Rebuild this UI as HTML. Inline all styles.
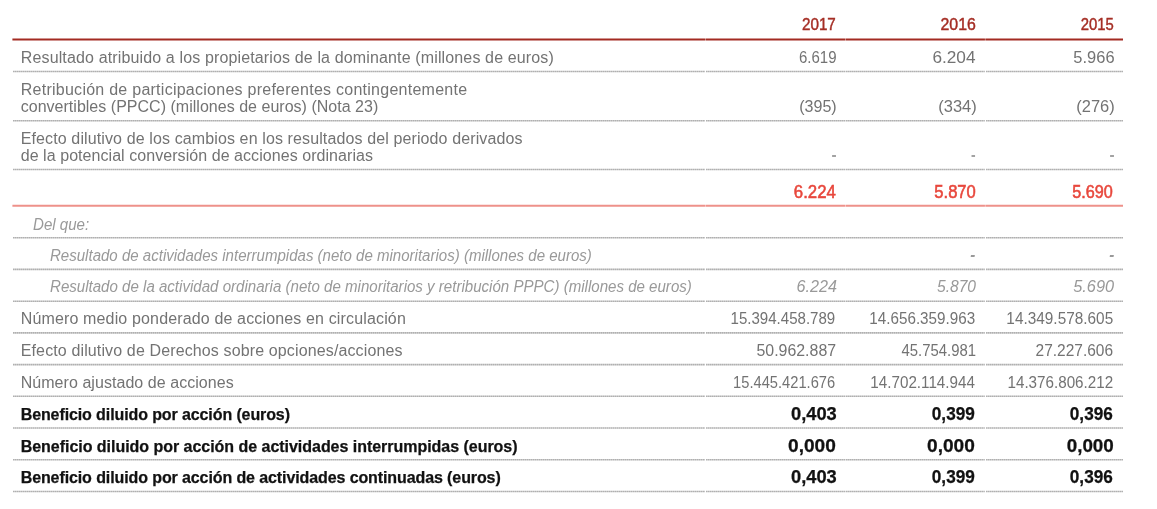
<!DOCTYPE html>
<html lang="es">
<head>
<meta charset="utf-8">
<title>Beneficio diluido por acción</title>
<style>
html,body{margin:0;padding:0;background:#fff;}
body{width:1157px;height:509px;overflow:hidden;position:relative;font-family:"Liberation Sans",sans-serif;}
table{filter:blur(0.5px);position:absolute;left:13px;top:0;width:1110px;border-collapse:separate;border-spacing:0;table-layout:fixed;}
td,th{position:relative;padding:0;margin:0;font-weight:normal;text-align:left;vertical-align:top;color:#737373;font-size:16px;line-height:17px;white-space:nowrap;box-sizing:border-box;}
.t{position:absolute;display:block;white-space:nowrap;line-height:17px;}
.num .t{transform-origin:100% 50%}
td.num{font-size:17px}
td.dash{color:#a2a2a2;font-weight:bold}
tr.head th{color:#a52e25;font-weight:normal;font-size:17px;-webkit-text-stroke:0.45px #a52e25}
tr.tot td{color:#e8473c;font-weight:normal;font-size:17.5px;-webkit-text-stroke:0.55px #e8473c}
tr.it td{font-style:italic;color:#999;font-size:16px}
tr.it td .t{transform-origin:0 50%}
tr.it td.num .t{transform-origin:100% 50%}
tr.b td{font-weight:bold;color:#111;font-size:16px;-webkit-text-stroke:0.25px #111}
tr.b td.num{font-size:17.5px}
svg.rules{position:absolute;left:0;top:0;pointer-events:none}
svg.rules line{fill:none}
line.h{stroke:#a32b22;stroke-width:2.1}
line.p{stroke:#ee918a;stroke-width:2.1}
line.d{stroke:#b0b0b0;stroke-width:1.6;stroke-dasharray:1.7 0.3}
</style>
</head>
<body>
<table>
<colgroup><col style="width:692px"><col style="width:140px"><col style="width:140px"><col style="width:138px"></colgroup>
<tr class="head" style="height:41px"><th></th><th class="num"><span class="t" style="transform:scaleX(0.8942);top:16.00px;right:8.70px">2017</span></th><th class="num"><span class="t" style="transform:scaleX(0.9338);top:16.00px;right:9.20px">2016</span></th><th class="num"><span class="t" style="transform:scaleX(0.8741);top:16.00px;right:8.70px">2015</span></th></tr>
<tr class="reg" style="height:31px"><td><span class="t" style="letter-spacing:0.138px;top:7.80px;left:7.78px">Resultado atribuido a los propietarios de la dominante (millones de euros)</span></td><td class="num"><span class="t" style="transform:scaleX(0.8832);top:7.80px;right:8.70px">6.619</span></td><td class="num"><span class="t" style="transform:scaleX(1.0146);top:7.80px;right:9.20px">6.204</span></td><td class="num"><span class="t" style="transform:scaleX(0.9677);top:7.80px;right:8.45px">5.966</span></td></tr>
<tr class="reg two" style="height:49px"><td><span class="t" style="letter-spacing:0.258px;top:8.50px;left:7.74px">Retribución de participaciones preferentes contingentemente</span><span class="t" style="letter-spacing:0.021px;top:25.60px;left:7.70px">convertibles (PPCC) (millones de euros) (Nota 23)</span></td><td class="num"><span class="t" style="transform:scaleX(0.9434);top:25.60px;right:8.45px">(395)</span></td><td class="num"><span class="t" style="transform:scaleX(0.9685);top:25.60px;right:8.70px">(334)</span></td><td class="num"><span class="t" style="transform:scaleX(0.9685);top:25.60px;right:7.95px">(276)</span></td></tr>
<tr class="reg two" style="height:49px"><td><span class="t" style="letter-spacing:0.118px;top:8.50px;left:7.74px">Efecto dilutivo de los cambios en los resultados del periodo derivados</span><span class="t" style="letter-spacing:0.057px;top:26.40px;left:7.70px">de la potencial conversión de acciones ordinarias</span></td><td class="num dash"><span class="t" style="transform:scaleX(0.8933);top:25.40px;right:8.70px">-</span></td><td class="num dash"><span class="t" style="transform:scaleX(0.8115);top:25.40px;right:9.20px">-</span></td><td class="num dash"><span class="t" style="transform:scaleX(0.8933);top:25.40px;right:8.20px">-</span></td></tr>
<tr class="tot" style="height:37px"><td></td><td class="num"><span class="t" style="transform:scaleX(0.9590);top:13.60px;right:9.25px">6.224</span></td><td class="num"><span class="t" style="transform:scaleX(0.9463);top:13.60px;right:9.50px">5.870</span></td><td class="num"><span class="t" style="transform:scaleX(0.9250);top:13.60px;right:10.00px">5.690</span></td></tr>
<tr class="it" style="height:31px"><td><span class="t" style="transform:scaleX(0.9422);top:8.50px;left:19.70px">Del que:</span></td><td class="num"></td><td class="num"></td><td class="num"></td></tr>
<tr class="it" style="height:32px"><td><span class="t" style="transform:scaleX(0.9402);top:9.20px;left:36.74px">Resultado de actividades interrumpidas (neto de minoritarios) (millones de euros)</span></td><td class="num"></td><td class="num dash"><span class="t" style="transform:scaleX(0.9509);top:8.20px;right:10.00px">-</span></td><td class="num dash"><span class="t" style="transform:scaleX(0.9509);top:8.20px;right:9.00px">-</span></td></tr>
<tr class="it" style="height:32px"><td><span class="t" style="transform:scaleX(0.9422);top:8.30px;left:36.74px">Resultado de la actividad ordinaria (neto de minoritarios y retribución PPPC) (millones de euros)</span></td><td class="num"><span class="t" style="transform:scaleX(1.0096);top:8.30px;right:8.45px">6.224</span></td><td class="num"><span class="t" style="transform:scaleX(0.9760);top:8.30px;right:9.25px">5.870</span></td><td class="num"><span class="t" style="transform:scaleX(1.0193);top:8.30px;right:8.75px">5.690</span></td></tr>
<tr class="reg" style="height:31px"><td><span class="t" style="letter-spacing:0.148px;top:7.75px;left:7.70px">Número medio ponderado de acciones en circulación</span></td><td class="num"><span class="t" style="transform:scaleX(0.8853);top:7.75px;right:10.00px">15.394.458.789</span></td><td class="num"><span class="t" style="transform:scaleX(0.8959);top:7.75px;right:10.00px">14.656.359.963</span></td><td class="num"><span class="t" style="transform:scaleX(0.9038);top:7.75px;right:9.50px">14.349.578.605</span></td></tr>
<tr class="reg" style="height:32px"><td><span class="t" style="letter-spacing:0.129px;top:8.50px;left:7.74px">Efecto dilutivo de Derechos sobre opciones/acciones</span></td><td class="num"><span class="t" style="transform:scaleX(0.9358);top:8.50px;right:9.20px">50.962.887</span></td><td class="num"><span class="t" style="transform:scaleX(0.8762);top:8.50px;right:9.20px">45.754.981</span></td><td class="num"><span class="t" style="transform:scaleX(0.9116);top:8.50px;right:9.50px">27.227.606</span></td></tr>
<tr class="reg" style="height:32px"><td><span class="t" style="letter-spacing:0.052px;top:8.50px;left:7.70px">Número ajustado de acciones</span></td><td class="num"><span class="t" style="transform:scaleX(0.8637);top:8.50px;right:10.00px">15.445.421.676</span></td><td class="num"><span class="t" style="transform:scaleX(0.8943);top:8.50px;right:10.00px">14.702.114.944</span></td><td class="num"><span class="t" style="transform:scaleX(0.8945);top:8.50px;right:9.70px">14.376.806.212</span></td></tr>
<tr class="b" style="height:32px"><td><span class="t" style="letter-spacing:-0.103px;top:8.80px;left:7.70px">Beneficio diluido por acción (euros)</span></td><td class="num"><span class="t" style="transform:scaleX(1.0462);top:8.80px;right:8.45px">0,403</span></td><td class="num"><span class="t" style="transform:scaleX(0.9818);top:8.80px;right:10.00px">0,399</span></td><td class="num"><span class="t" style="transform:scaleX(0.9818);top:8.80px;right:10.00px">0,396</span></td></tr>
<tr class="b" style="height:31px"><td><span class="t" style="letter-spacing:-0.030px;top:8.50px;left:7.70px">Beneficio diluido por acción de actividades interrumpidas (euros)</span></td><td class="num"><span class="t" style="transform:scaleX(1.0909);top:8.50px;right:9.25px">0,000</span></td><td class="num"><span class="t" style="transform:scaleX(1.0909);top:8.50px;right:9.75px">0,000</span></td><td class="num"><span class="t" style="transform:scaleX(1.0750);top:8.50px;right:9.20px">0,000</span></td></tr>
<tr class="b" style="height:32px"><td><span class="t" style="letter-spacing:-0.101px;top:8.80px;left:7.70px">Beneficio diluido por acción de actividades continuadas (euros)</span></td><td class="num"><span class="t" style="transform:scaleX(1.0462);top:8.80px;right:8.45px">0,403</span></td><td class="num"><span class="t" style="transform:scaleX(0.9818);top:8.80px;right:10.00px">0,399</span></td><td class="num"><span class="t" style="transform:scaleX(0.9818);top:8.80px;right:10.00px">0,396</span></td></tr>
</table>
<svg class="rules" width="1157" height="509" viewBox="0 0 1157 509">
<line class="h" x1="12.40" y1="39.50" x2="705.05" y2="39.50"/><line class="h" x1="705.40" y1="39.50" x2="845.55" y2="39.50"/><line class="h" x1="845.90" y1="39.50" x2="984.95" y2="39.50"/><line class="h" x1="985.30" y1="39.50" x2="1123.00" y2="39.50"/>
<line class="d" x1="13.00" y1="71.50" x2="704.90" y2="71.50"/><line class="d" x1="706.00" y1="71.50" x2="845.40" y2="71.50"/><line class="d" x1="846.00" y1="71.50" x2="984.80" y2="71.50"/><line class="d" x1="986.00" y1="71.50" x2="1123.00" y2="71.50"/>
<line class="d" x1="13.00" y1="120.70" x2="704.90" y2="120.70"/><line class="d" x1="706.00" y1="120.70" x2="845.40" y2="120.70"/><line class="d" x1="846.00" y1="120.70" x2="984.80" y2="120.70"/><line class="d" x1="986.00" y1="120.70" x2="1123.00" y2="120.70"/>
<line class="d" x1="13.00" y1="169.50" x2="704.90" y2="169.50"/><line class="d" x1="706.00" y1="169.50" x2="845.40" y2="169.50"/><line class="d" x1="846.00" y1="169.50" x2="984.80" y2="169.50"/><line class="d" x1="986.00" y1="169.50" x2="1123.00" y2="169.50"/>
<line class="p" x1="12.40" y1="205.80" x2="705.05" y2="205.80"/><line class="p" x1="705.40" y1="205.80" x2="845.55" y2="205.80"/><line class="p" x1="845.90" y1="205.80" x2="984.95" y2="205.80"/><line class="p" x1="985.30" y1="205.80" x2="1123.00" y2="205.80"/>
<line class="d" x1="13.00" y1="237.70" x2="704.90" y2="237.70"/><line class="d" x1="706.00" y1="237.70" x2="845.40" y2="237.70"/><line class="d" x1="846.00" y1="237.70" x2="984.80" y2="237.70"/><line class="d" x1="986.00" y1="237.70" x2="1123.00" y2="237.70"/>
<line class="d" x1="13.00" y1="269.40" x2="704.90" y2="269.40"/><line class="d" x1="706.00" y1="269.40" x2="845.40" y2="269.40"/><line class="d" x1="846.00" y1="269.40" x2="984.80" y2="269.40"/><line class="d" x1="986.00" y1="269.40" x2="1123.00" y2="269.40"/>
<line class="d" x1="13.00" y1="301.20" x2="704.90" y2="301.20"/><line class="d" x1="706.00" y1="301.20" x2="845.40" y2="301.20"/><line class="d" x1="846.00" y1="301.20" x2="984.80" y2="301.20"/><line class="d" x1="986.00" y1="301.20" x2="1123.00" y2="301.20"/>
<line class="d" x1="13.00" y1="332.90" x2="704.90" y2="332.90"/><line class="d" x1="706.00" y1="332.90" x2="845.40" y2="332.90"/><line class="d" x1="846.00" y1="332.90" x2="984.80" y2="332.90"/><line class="d" x1="986.00" y1="332.90" x2="1123.00" y2="332.90"/>
<line class="d" x1="13.00" y1="364.60" x2="704.90" y2="364.60"/><line class="d" x1="706.00" y1="364.60" x2="845.40" y2="364.60"/><line class="d" x1="846.00" y1="364.60" x2="984.80" y2="364.60"/><line class="d" x1="986.00" y1="364.60" x2="1123.00" y2="364.60"/>
<line class="d" x1="13.00" y1="396.30" x2="704.90" y2="396.30"/><line class="d" x1="706.00" y1="396.30" x2="845.40" y2="396.30"/><line class="d" x1="846.00" y1="396.30" x2="984.80" y2="396.30"/><line class="d" x1="986.00" y1="396.30" x2="1123.00" y2="396.30"/>
<line class="d" x1="13.00" y1="428.00" x2="704.90" y2="428.00"/><line class="d" x1="706.00" y1="428.00" x2="845.40" y2="428.00"/><line class="d" x1="846.00" y1="428.00" x2="984.80" y2="428.00"/><line class="d" x1="986.00" y1="428.00" x2="1123.00" y2="428.00"/>
<line class="d" x1="13.00" y1="459.80" x2="704.90" y2="459.80"/><line class="d" x1="706.00" y1="459.80" x2="845.40" y2="459.80"/><line class="d" x1="846.00" y1="459.80" x2="984.80" y2="459.80"/><line class="d" x1="986.00" y1="459.80" x2="1123.00" y2="459.80"/>
<line class="d" x1="13.00" y1="491.50" x2="704.90" y2="491.50"/><line class="d" x1="706.00" y1="491.50" x2="845.40" y2="491.50"/><line class="d" x1="846.00" y1="491.50" x2="984.80" y2="491.50"/><line class="d" x1="986.00" y1="491.50" x2="1123.00" y2="491.50"/>
</svg>
</body>
</html>
